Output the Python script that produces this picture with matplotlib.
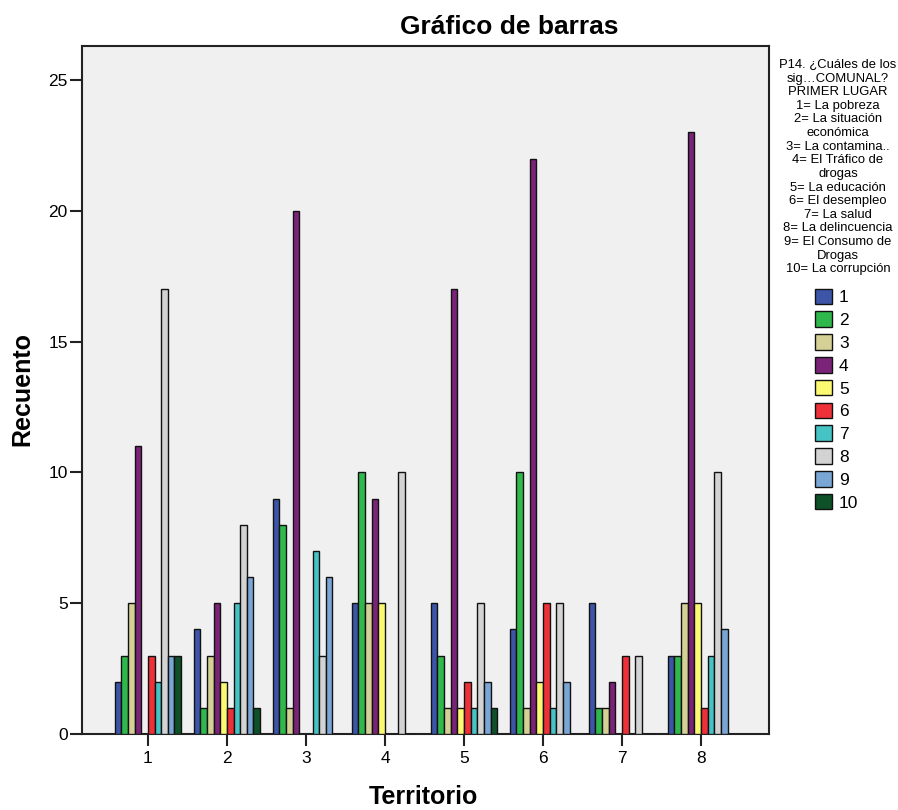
import numpy as np
import matplotlib
matplotlib.use('Agg')
import matplotlib.pyplot as plt

plt.rcParams['font.family'] = ['Liberation Sans', 'DejaVu Sans']

# counts per territorio (1..8) for each answer code 1..10
territorios = [1, 2, 3, 4, 5, 6, 7, 8]
codes = ['1', '2', '3', '4', '5', '6', '7', '8', '9', '10']
counts = [
    [2, 4, 9, 5, 5, 4, 5, 3],      # 1 La pobreza
    [3, 1, 8, 10, 3, 10, 1, 3],    # 2 La situacion economica
    [5, 3, 1, 5, 1, 1, 1, 5],      # 3 La contaminacion
    [11, 5, 20, 9, 17, 22, 2, 23], # 4 El trafico de drogas
    [0, 2, 0, 5, 1, 2, 0, 5],      # 5 La educacion
    [3, 1, 0, 0, 2, 5, 3, 1],      # 6 El desempleo
    [2, 5, 7, 0, 1, 1, 0, 3],      # 7 La salud
    [17, 8, 3, 10, 5, 5, 3, 10],   # 8 La delincuencia
    [3, 6, 6, 0, 2, 2, 0, 4],      # 9 El consumo de drogas
    [3, 1, 0, 0, 1, 0, 0, 0],      # 10 La corrupcion
]
colors = ['#3c55a9', '#2fb84b', '#d5d096', '#7a2378', '#fbf872',
          '#ee3139', '#45c3c5', '#d3d3d3', '#79a6d5', '#0e5129']

legend_title = ("P14. ¿Cuáles de los\nsig…COMUNAL?\nPRIMER LUGAR\n1= La pobreza\n"
                "2= La situación\neconómica\n3= La contamina..\n4= El Tráfico de\n"
                "drogas\n5= La educación\n6= El desempleo\n7= La salud\n"
                "8= La delincuencia\n9= El Consumo de\nDrogas\n10= La corrupción")

fig = plt.figure(figsize=(8.98, 8.10), dpi=100)
ax = fig.add_axes([0.0908, 0.0938, 0.7655, 0.85])
ax.set_facecolor('#f0f0f0')

x = np.array(territorios)
w = 0.084
handles = []
for i, vals in enumerate(counts):
    b = ax.bar(x + (i - 4.5) * w, vals, width=w, color=colors[i],
               edgecolor='#111111', linewidth=1.0, zorder=3)
    handles.append(b)

ax.set_xlim(0.16, 8.86)
ax.set_ylim(0, 26.32)
ax.set_xticks(territorios)
ax.set_yticks([0, 5, 10, 15, 20, 25])
ax.tick_params(axis='both', direction='out', length=8.5, width=1.5,
               labelsize=12.5, color='#222222', pad=1.5)
ax.tick_params(axis='x', pad=4)
for s in ax.spines.values():
    s.set_linewidth(1.5)
    s.set_color('#222222')

fig.text(509 / 898, 1 - 27 / 810, 'Gráfico de barras', ha='center', va='center',
         fontsize=19, fontweight='bold')
fig.text(22 / 898, 1 - 389 / 810, 'Recuento', ha='center', va='center',
         rotation=90, fontsize=18, fontweight='bold')
fig.text(423 / 898, 1 - 797 / 810, 'Territorio', ha='center', va='center',
         fontsize=18, fontweight='bold')

fig.text(838 / 898, 1 - 59 / 810, legend_title, ha='center', va='top',
         fontsize=9.4, linespacing=1.18)

leg = fig.legend(handles, codes, loc='upper left',
                 bbox_to_anchor=(806 / 898, 1 - 280 / 810), frameon=False,
                 fontsize=12.5, handlelength=1.0, handleheight=1.0,
                 handletextpad=0.4, labelspacing=0.35, borderpad=0)

fig.savefig('out.png', dpi=100)
